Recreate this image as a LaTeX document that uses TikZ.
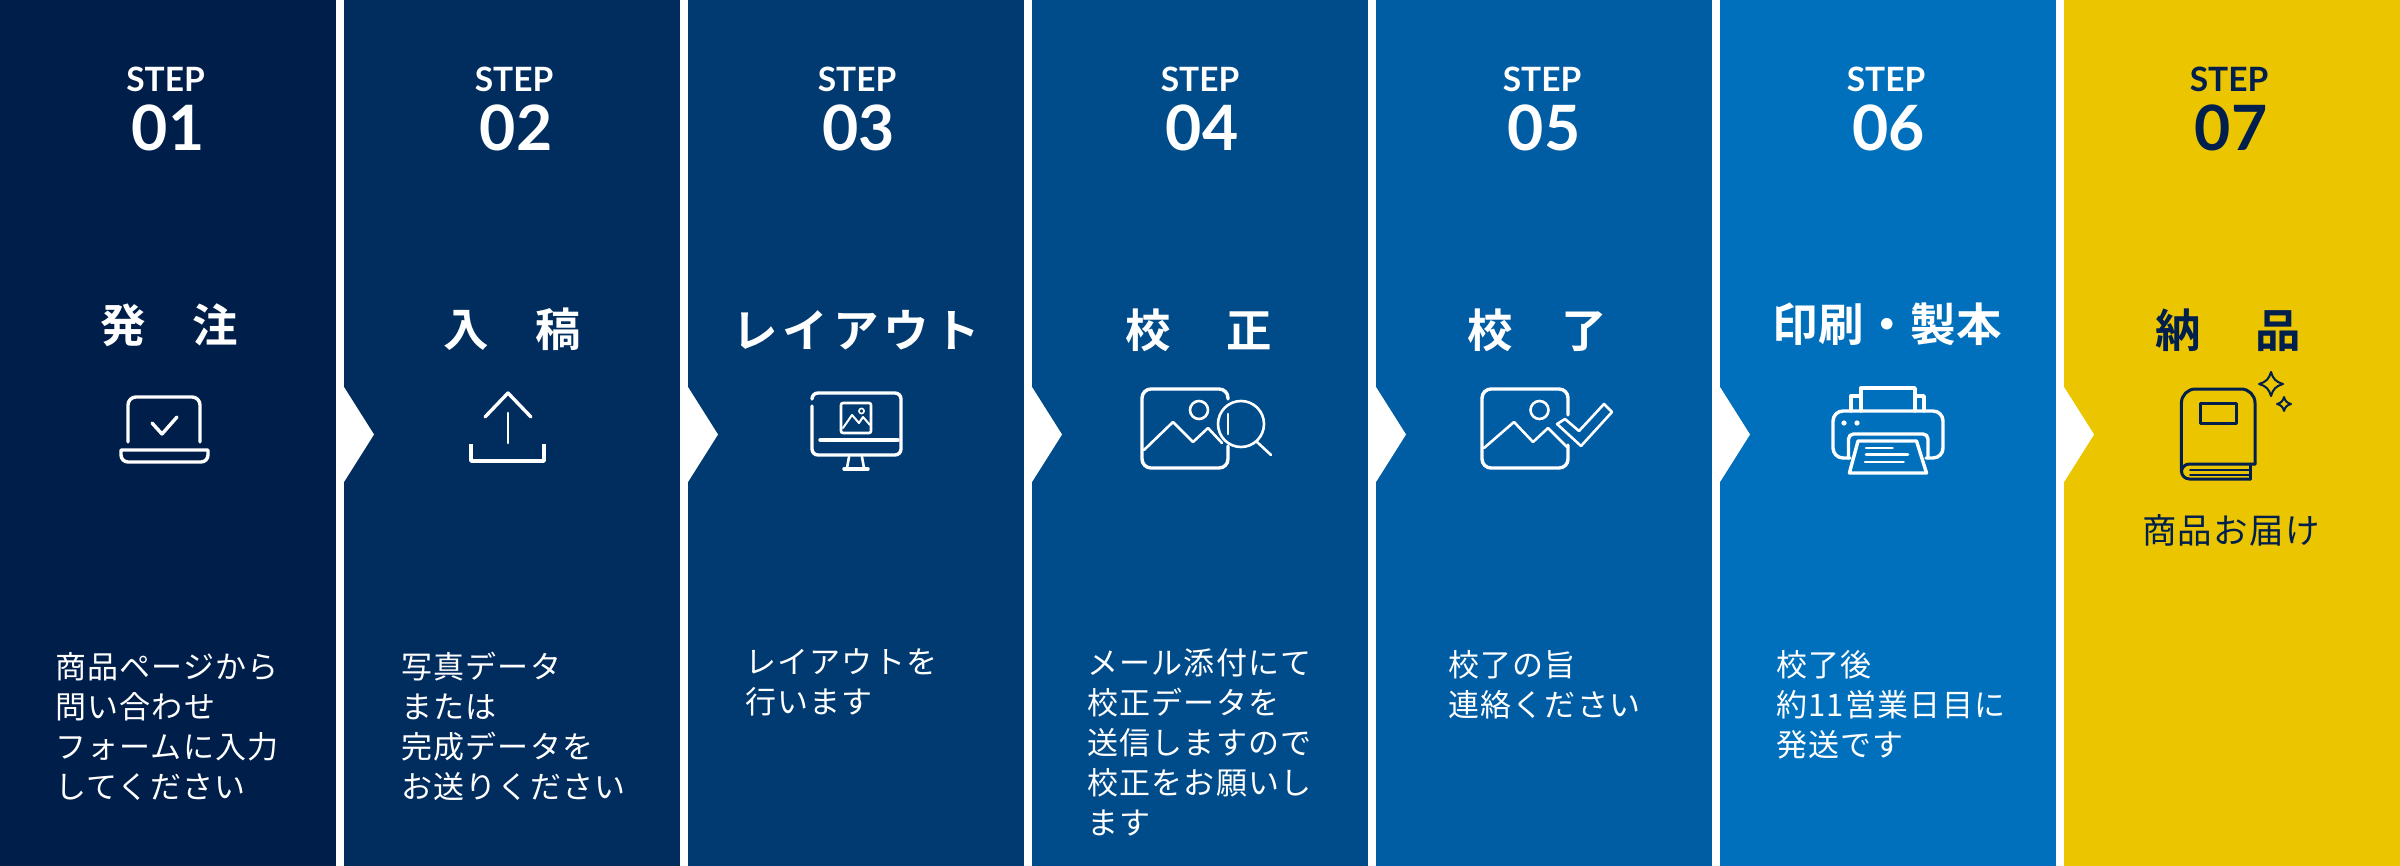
\documentclass[tikz,border=0pt]{standalone}
\usepackage{fontspec}
\setmainfont{Lato}
\newfontfamily\latofont{Lato}
\newfontfamily\jpbody[LetterSpace=4]{Noto Sans CJK JP}
\newfontfamily\jphead[LetterSpace=11,BoldFont={Noto Sans CJK JP Bold}]{Noto Sans CJK JP}
\newfontfamily\jpheadt[LetterSpace=1,BoldFont={Noto Sans CJK JP Bold}]{Noto Sans CJK JP}
\definecolor{c1}{HTML}{001E4A}
\definecolor{c2}{HTML}{002C5E}
\definecolor{c3}{HTML}{003A70}
\definecolor{c4}{HTML}{004B8A}
\definecolor{c5}{HTML}{005CA3}
\definecolor{c6}{HTML}{0070BD}
\definecolor{c7}{HTML}{EBC500}
\definecolor{inkd}{HTML}{001F4D}
\tikzset{
  colbox/.style={fill=#1,draw=none},
  chev/.style={fill=white,draw=none},
  steplab/.style={anchor=base,inner sep=0pt,text=white,font=\latofont\bfseries\fontsize{33.5}{36}\selectfont},
  stepnum/.style={anchor=base,inner sep=0pt,text=white,font=\latofont\bfseries\fontsize{62.5}{70}\selectfont},
  headlab/.style={anchor=base,inner sep=0pt,text=white,font=\jphead\bfseries\fontsize{45.5}{50}\selectfont},
  headtight/.style={anchor=base,inner sep=0pt,text=white,font=\jpheadt\bfseries\fontsize{45.5}{50}\selectfont},
  bodylab/.style={anchor=north west,inner sep=0pt,align=left,text=white,font=\jpbody\fontsize{31}{40}\selectfont},
  icon/.style={draw=white,line width=3.4pt,line cap=round,line join=round},
  iconthin/.style={draw=white,line width=2.6pt,line cap=round,line join=round},
  book/.style={draw=inkd,line width=3pt,line cap=round,line join=round},
  bookthin/.style={draw=inkd,line width=2pt,line cap=round,line join=round},
}
\begin{document}
\begin{tikzpicture}[x=1pt,y=-1pt]
\useasboundingbox (0,0) rectangle (2400,866);
\fill[white] (0,0) rectangle (2400,866);
% columns
\path[colbox=c1] (0,0) rectangle (336,866);
\path[colbox=c2] (344,0) rectangle (680,866);
\path[colbox=c3] (688,0) rectangle (1024,866);
\path[colbox=c4] (1032,0) rectangle (1368,866);
\path[colbox=c5] (1376,0) rectangle (1712,866);
\path[colbox=c6] (1720,0) rectangle (2056,866);
\path[colbox=c7] (2064,0) rectangle (2400,866);
% chevrons
\foreach \xx in {344,688,1032,1376,1720,2064}
  \path[chev] (\xx,387) -- (\xx+30,434.5) -- (\xx,482) -- cycle;
% step labels
\node[steplab] (s1) at (165.5,92) {STEP};
\node[stepnum] (n1) at (168,150.5) {01};
\node[steplab] (s2) at (514,92) {STEP};
\node[stepnum] (n2) at (516,150.5) {02};
\node[steplab] (s3) at (857,92) {STEP};
\node[stepnum] (n3) at (858.5,150.5) {03};
\node[steplab] (s4) at (1200,92) {STEP};
\node[stepnum] (n4) at (1202,150.5) {04};
\node[steplab] (s5) at (1542,92) {STEP};
\node[stepnum] (n5) at (1544,150.5) {05};
\node[steplab] (s6) at (1886,92) {STEP};
\node[stepnum] (n6) at (1888.5,150.5) {06};
\node[steplab,text=inkd] (s7) at (2229,92) {STEP};
\node[stepnum,text=inkd] (n7) at (2231,150.5) {07};
% headings
\node[headlab] (h1) at (169,342.5) {発\hspace{47pt}注};
\node[headlab] (h2) at (512.5,346.5) {入\hspace{47pt}稿};
\node[headlab] (h3) at (856,347.5) {レイアウト};
\node[headlab] (h4) at (1198.5,347.5) {校\hspace{56pt}正};
\node[headlab] (h5) at (1537.5,347.5) {校\hspace{49pt}了};
\node[headtight] (h6) at (1887,341.5) {印刷・製本};
\node[headlab,text=inkd] (h7) at (2228,347.5) {納\hspace{55pt}品};
\node[anchor=base,inner sep=0pt,text=inkd,font=\jpbody\fontsize{34.5}{40}\selectfont] (d7) at (2231,543) {商品お届け};
% body text
\node[bodylab] (d1) at (55,652) {商品ページから\\問い合わせ\\フォームに入力\\してください};
\node[bodylab] (d2) at (401,652) {写真データ\\または\\完成データを\\お送りください};
\node[bodylab] (d3) at (745,648.5) {レイアウトを\\行います};
\node[bodylab] (d4) at (1087,648.5) {メール添付にて\\校正データを\\送信しますので\\校正をお願いし\\ます};
\node[bodylab] (d5) at (1448,650) {校了の旨\\連絡ください};
\node[bodylab] (d6) at (1776,650) {校了後\\約11営業日目に\\発送です};
% icon 1: laptop
\draw[icon,rounded corners=8pt] (128,442) -- (128,397) -- (200,397) -- (200,442);
\draw[icon] (121,450) -- (208,450) [rounded corners=7pt] -- (208,462) -- (121,462) [sharp corners] -- cycle;
\draw[icon] (152,423) -- (162,434) -- (177,417);
% icon 2: upload
\draw[icon] (485,417) -- (508,393) -- (531,417);
\draw[iconthin] (508,413) -- (508,443);
\draw[icon,line cap=butt] (471,444) -- (471,461) -- (544,461) -- (544,444);
% icon 3: monitor
\draw[icon,rounded corners=6pt] (812,399) -- (812,393) -- (901,393) -- (901,455) -- (812,455) -- (812,406);
\draw[icon] (820,440) -- (898,440);
\draw[iconthin,rounded corners=2pt] (841,403) rectangle (871,433);
\draw[iconthin,line width=2pt] (843,428) -- (852,415) -- (859,423) -- (863,417) -- (870,425);
\draw[iconthin,line width=1.6pt] (861.5,411) circle (2.6);
\draw[iconthin] (849,457) -- (847,468);
\draw[iconthin] (862,457) -- (864,468);
\draw[icon] (844,469) -- (868,469);
% icon 4: image + magnifier
\draw[icon,rounded corners=9pt] (1228,399) -- (1228,389) -- (1142,389) -- (1142,468) -- (1228,468) -- (1228,446);
\draw[iconthin] (1228,414) -- (1228,434);
\draw[iconthin] (1144,450) -- (1173,422) -- (1193,442) -- (1208,428) -- (1222,443);
\draw[iconthin] (1199,410) circle (9);
\draw[iconthin] (1241,424) circle (23);
\draw[iconthin] (1257,442) -- (1271,455);
% icon 5: image + check
\draw[icon,rounded corners=9pt] (1568,415) -- (1568,389) -- (1482,389) -- (1482,468) -- (1568,468) -- (1568,445);
\draw[iconthin] (1484,448) -- (1514,422) -- (1533,442) -- (1548,428) -- (1567,447);
\draw[iconthin] (1539.5,410) circle (9);
\draw[iconthin] (1557,424) -- (1565,419) -- (1579,431) -- (1604,404) -- (1612,412) -- (1581,446) -- cycle;
% icon 6: printer
\draw[icon] (1861,411) -- (1861,388) -- (1915,388) -- (1915,411);
\draw[icon] (1851,411) -- (1851,396) -- (1861,396);
\draw[icon] (1915,396) -- (1924,396) -- (1924,411);
\draw[icon,rounded corners=10pt] (1850,458) -- (1833,458) -- (1833,411) -- (1943,411) -- (1943,458) -- (1926,458);
\draw[icon,rounded corners=5pt] (1848.5,458) -- (1848.5,434) -- (1928,434) -- (1928,458);
\path[fill=c6] (1858,441) -- (1916.5,441) -- (1926.5,473) -- (1849.4,473) -- cycle;
\draw[icon] (1858,441) -- (1916.5,441) -- (1926.5,473) -- (1849.4,473) -- cycle;
\draw[iconthin] (1866,448) -- (1892.6,448);
\draw[iconthin] (1866,454.5) -- (1908,454.5);
\draw[iconthin] (1865,462) -- (1903.6,462);
\fill[white] (1844,423) circle (2.6);
\fill[white] (1857,423) circle (2.6);
% icon 7: book + sparkles
\draw[book,rounded corners=14pt] (2255,464) -- (2255,389) -- (2181.4,389) -- (2181.4,470);
\draw[book,rounded corners=8pt] (2255,464) -- (2181.4,464) -- (2181.4,479) -- (2250.7,479);
\draw[book] (2250.7,464) -- (2250.7,479);
\draw[bookthin] (2190,469.5) -- (2250,469.5);
\draw[bookthin] (2190,474.5) -- (2250,474.5);
\draw[book] (2200,403) rectangle (2236.5,423);
\draw[bookthin] (2271,372) .. controls (2273,379) and (2276,382) .. (2283,384) .. controls (2276,386) and (2273,389) .. (2271,396) .. controls (2269,389) and (2266,386) .. (2259,384) .. controls (2266,382) and (2269,379) .. (2271,372) -- cycle;
\draw[bookthin] (2284,397) .. controls (2285,401) and (2287,403) .. (2291,404) .. controls (2287,405) and (2285,407) .. (2284,411) .. controls (2283,407) and (2281,405) .. (2277,404) .. controls (2281,403) and (2283,401) .. (2284,397) -- cycle;
\end{tikzpicture}
\end{document}
